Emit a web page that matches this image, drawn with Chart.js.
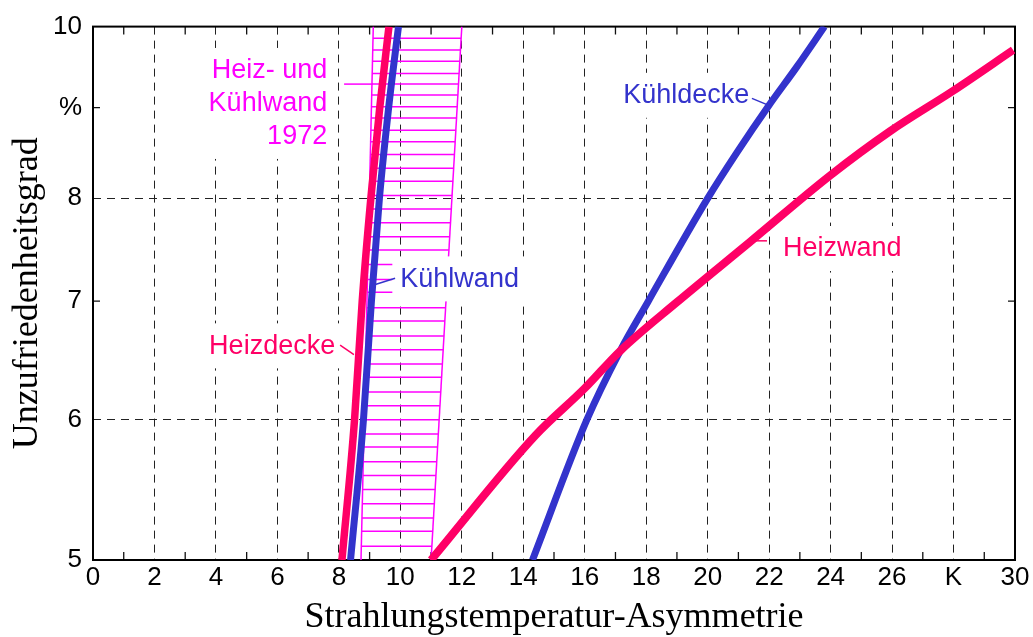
<!DOCTYPE html>
<html>
<head>
<meta charset="utf-8">
<script src="https://cdn.jsdelivr.net/npm/chart.js@4.4.1/dist/chart.umd.min.js"></script>
<style>
  html, body { margin: 0; padding: 0; background: #fff; }
</style>
</head>
<body>
<canvas id="chart" width="1033" height="637"></canvas>
<script>
// values
const yLevels = [5, 6, 7, 8, 9, 10];
const heizdeckeX = [8.1, 8.51, 8.76, 9.04, 9.33, 9.63];
const kuehlwandX = [8.38, 8.8, 9.06, 9.32, 9.62, 9.94];

const heizwandX = [11.0, 14.4, 16.0, 17.15, 19.0, 21.38, 23.98, 25.94, 27.99, 29.94];
const heizwandY = [5.0, 5.88, 6.25, 6.56, 6.99, 7.56, 8.24, 8.73, 9.2, 9.7];

const kuehldeckeX = [14.3, 16.07, 17.15, 18.05, 20.0, 20.95, 21.98, 22.9, 23.8];
const kuehldeckeY = [5.0, 6.0, 6.56, 6.99, 8.0, 8.49, 9.02, 9.49, 10.0];

// 1972 band (Heiz- und Kühlwand)
const bandY = [5, 10];
const bandLeftX = [8.72, 9.12];
const bandRightX = [11.0, 12.0];
const hatchLevels = [5.09, 5.19, 5.28, 5.38, 5.48, 5.58, 5.68, 5.79, 5.89, 6.0,
  6.11, 6.22, 6.34, 6.45, 6.57, 6.69, 6.82, 6.94, 7.08, 7.2, 7.34, 7.48, 7.61,
  7.75, 7.89, 8.03, 8.18, 8.32, 8.47, 8.61, 8.74, 8.88, 9.01, 9.15, 9.28, 9.41,
  9.56, 9.7, 9.85];

const xTickValues = [0, 2, 4, 6, 8, 10, 12, 14, 16, 18, 20, 22, 24, 26, 28, 30];
const xTickLabels = ['0', '2', '4', '6', '8', '10', '12', '14', '16', '18', '20', '22', '24', '26', 'K', '30'];
const xMinorTicks = [1, 3, 5, 7, 9, 11, 13, 15, 17, 19, 21, 23, 25, 27, 29];
const yTickValues = [5, 6, 7, 8, 9, 10];
const yTickLabels = ['5', '6', '7', '8', '%', '10'];
const yGridValues = [6, 8];
const yMinorTicks = [7, 9];

const RED = '#FF0066';
const BLUE = '#3333CC';
const MAGENTA = '#FF00FF';
const SANS = '"Liberation Sans", Arial, sans-serif';
const SERIF = '"Liberation Serif", "Times New Roman", serif';

const labels = [
  { lines: ['Heiz- und', 'Kühlwand', '1972'], x: 7.62, y: 9.44, align: 'right', color: MAGENTA,
    leader: [[8.17, 9.28], [9.1, 9.28]] },
  { lines: ['Kühlwand'], x: 10.0, y: 7.2, align: 'left', color: BLUE,
    leader: [[9.83, 7.21], [9.16, 7.15]] },
  { lines: ['Heizdecke'], x: 7.88, y: 6.6, align: 'right', color: RED,
    leader: [[8.04, 6.61], [8.49, 6.53]] },
  { lines: ['Kühldecke'], x: 17.25, y: 9.14, align: 'left', color: BLUE,
    leader: [[21.44, 9.11], [21.97, 9.03]] },
  { lines: ['Heizwand'], x: 22.45, y: 7.49, align: 'left', color: RED,
    leader: [[21.44, 7.57], [21.93, 7.57]] }
];

function bandX(edge, v) {
  const t = Math.log(v / bandY[0]) / Math.log(bandY[1] / bandY[0]);
  return edge[0] + (edge[1] - edge[0]) * t;
}

function pts(xs, ys) {
  return xs.map((x, i) => ({ x: x, y: ys[i] }));
}

const curveStyle = { pointRadius: 0, showLine: true, fill: false, curve: true, cubicInterpolationMode: 'monotone' };

const datasets = [
  Object.assign({ label: 'Heizdecke', data: pts(heizdeckeX, yLevels), borderColor: RED, borderWidth: 7.5 }, curveStyle),
  Object.assign({ label: 'Kühlwand', data: pts(kuehlwandX, yLevels), borderColor: BLUE, borderWidth: 7 }, curveStyle),
  Object.assign({ label: 'Heizwand', data: pts(heizwandX, heizwandY), borderColor: RED, borderWidth: 8 }, curveStyle),
  Object.assign({ label: 'Kühldecke', data: pts(kuehldeckeX, kuehldeckeY), borderColor: BLUE, borderWidth: 7 }, curveStyle),
  { label: 'band left', data: pts(bandLeftX, bandY), borderColor: MAGENTA, borderWidth: 1.5, pointRadius: 0, showLine: true },
  { label: 'band right', data: pts(bandRightX, bandY), borderColor: MAGENTA, borderWidth: 1.5, pointRadius: 0, showLine: true }
];
hatchLevels.forEach(v => {
  datasets.push({
    label: 'hatch',
    data: [{ x: bandX(bandLeftX, v), y: v }, { x: bandX(bandRightX, v), y: v }],
    borderColor: MAGENTA, borderWidth: 1.5, pointRadius: 0, showLine: true
  });
});

let boxesDrawn = false;

function drawBoxes(chart) {
  const { ctx, scales: { x, y } } = chart;
  ctx.save();
  ctx.font = '27px ' + SANS;
  ctx.fillStyle = '#fff';
  labels.forEach(l => {
    const px = x.getPixelForValue(l.x);
    const py = y.getPixelForValue(l.y);
    const w = Math.max(...l.lines.map(s => ctx.measureText(s).width));
    const left = l.align === 'right' ? px - w - 8 : px - 8;
    const top = py - 23;
    const h = (l.lines.length - 1) * 33 + 45;
    ctx.fillRect(left, top, w + 15, h);
  });
  ctx.restore();
}

const decor = {
  id: 'decor',
  beforeDatasetsDraw(chart) {
    const { ctx, chartArea: a, scales: { x, y } } = chart;
    ctx.save();
    ctx.strokeStyle = '#111';
    ctx.lineWidth = 1.3;
    ctx.beginPath();
    xMinorTicks.forEach(v => {
      const px = x.getPixelForValue(v);
      ctx.moveTo(px, a.bottom); ctx.lineTo(px, a.bottom - 8);
      ctx.moveTo(px, a.top); ctx.lineTo(px, a.top + 8);
    });
    yMinorTicks.forEach(v => {
      const py = y.getPixelForValue(v);
      ctx.moveTo(a.left, py); ctx.lineTo(a.left + 7, py);
      ctx.moveTo(a.right, py); ctx.lineTo(a.right - 7, py);
    });
    ctx.stroke();
    ctx.lineWidth = 2;
    ctx.strokeStyle = '#000';
    ctx.strokeRect(a.left, a.top, a.width, a.height);
    ctx.restore();
    boxesDrawn = false;
  },
  beforeDatasetDraw(chart, args) {
    if (!boxesDrawn && chart.data.datasets[args.index].curve) {
      drawBoxes(chart);
      boxesDrawn = true;
    }
  },
  afterDatasetsDraw(chart) {
    const { ctx, scales: { x, y } } = chart;
    ctx.save();
    ctx.font = '27px ' + SANS;
    ctx.textBaseline = 'middle';
    labels.forEach(l => {
      ctx.strokeStyle = l.color;
      ctx.lineWidth = 1.5;
      ctx.beginPath();
      ctx.moveTo(x.getPixelForValue(l.leader[0][0]), y.getPixelForValue(l.leader[0][1]));
      ctx.lineTo(x.getPixelForValue(l.leader[1][0]), y.getPixelForValue(l.leader[1][1]));
      ctx.stroke();
      ctx.fillStyle = l.color;
      ctx.textAlign = l.align;
      const px = x.getPixelForValue(l.x);
      const py = y.getPixelForValue(l.y);
      l.lines.forEach((s, i) => ctx.fillText(s, px, py + i * 33));
    });
    ctx.restore();
  }
};

new Chart(document.getElementById('chart'), {
  type: 'scatter',
  data: { datasets: datasets },
  plugins: [decor],
  options: {
    responsive: false,
    animation: false,
    layout: { padding: { top: 23, right: 18, left: 0, bottom: 0 } },
    plugins: { legend: { display: false }, tooltip: { enabled: false } },
    scales: {
      x: {
        type: 'linear',
        min: 0, max: 30,
        afterBuildTicks: s => { s.ticks = xTickValues.map(v => ({ value: v })); },
        afterFit: s => { s.height = 77; },
        ticks: {
          autoSkip: false, maxRotation: 0, padding: 2,
          color: '#000', font: { family: SANS, size: 26 },
          callback: (v, i) => xTickLabels[i]
        },
        grid: {
          drawTicks: false, lineWidth: 1,
          color: c => (c.tick && c.tick.value > 0 && c.tick.value < 30) ? '#222' : 'rgba(0,0,0,0)'
        },
        border: { display: false, dash: [8, 6] },
        title: {
          display: true, text: 'Strahlungstemperatur-Asymmetrie', color: '#000',
          font: { family: SERIF, size: 36, lineHeight: 1 }, padding: { top: 0, bottom: 1 }
        }
      },
      y: {
        type: 'logarithmic',
        min: 5, max: 10,
        afterBuildTicks: s => { s.ticks = yTickValues.map(v => ({ value: v })); },
        afterFit: s => { s.width = 93; },
        ticks: {
          autoSkip: false, padding: 11,
          color: '#000', font: { family: SANS, size: 26 },
          callback: (v, i) => yTickLabels[i]
        },
        grid: {
          drawTicks: false, lineWidth: 1,
          color: c => (c.tick && yGridValues.includes(c.tick.value)) ? '#222' : 'rgba(0,0,0,0)'
        },
        border: { display: false, dash: [8, 6] },
        title: {
          display: true, text: 'Unzufriedenheitsgrad', color: '#000',
          font: { family: SERIF, size: 36, lineHeight: 1 }, padding: { top: 10, bottom: 0 }
        }
      }
    }
  }
});
</script>
</body>
</html>
